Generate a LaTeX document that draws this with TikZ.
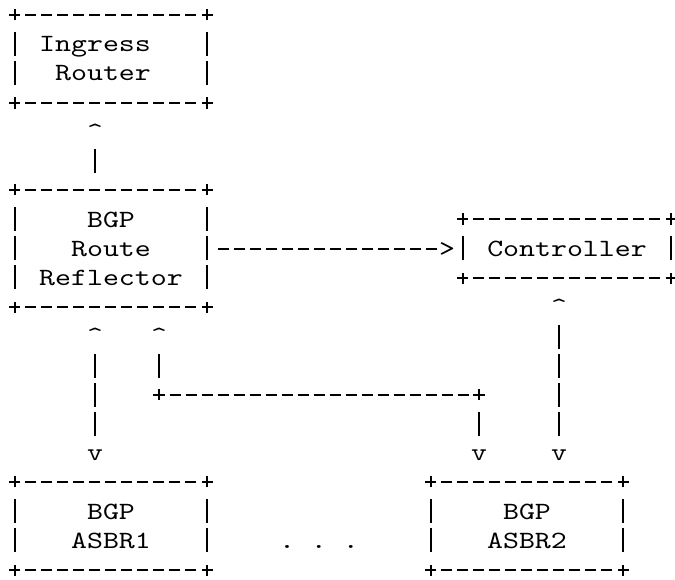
\documentclass[tikz,border=0pt]{standalone}
\usepackage{fontspec}
\newfontfamily\asciifont{lmmono10-regular.otf}[FakeStretch=1.225]
\newcommand\asciitext{\asciifont\fontsize{12.4pt}{14.6pt}\selectfont}
\newcommand\lstrut{\rule[-3.5pt]{0pt}{14.6pt}}
\tikzset{
  ascline/.style={line width=1pt},
  hdash/.style={ascline, dash pattern=on 5.5pt off 2.5pt, dash phase=6.75pt},
  vdash/.style={ascline, dash pattern=on 12pt off 2.6pt, dash phase=13.3pt},
  plus/.pic={\draw[ascline] (-2.8pt,0) -- (2.8pt,0) (0,-2.8pt) -- (0,2.8pt);},
  box/.style={rectangle, inner sep=0pt, font=\asciitext, align=center},
  tip/.style={inner sep=0pt, font=\asciitext, text height=11.1pt, text depth=3.5pt},
}
% ascii style frame round a box node
\newcommand\asciiframe[1]{%
  \draw[hdash, shorten <=4pt, shorten >=4pt] (#1.north west) -- (#1.north east);
  \draw[hdash, shorten <=4pt, shorten >=4pt] (#1.south west) -- (#1.south east);
  \draw[vdash, shorten <=7.3pt, shorten >=7.3pt] (#1.north west) -- (#1.south west);
  \draw[vdash, shorten <=7.3pt, shorten >=7.3pt] (#1.north east) -- (#1.south east);
  \foreach \corner in {north west,north east,south west,south east}{
    \pic at (#1.\corner) {plus};
  }
}

\begin{document}
\begin{tikzpicture}[x=8pt,y=-14.6pt]
  \useasboundingbox (-0.9375,-0.514) rectangle (41.25,19.32);

  % the boxes
  \node[box, minimum width=96pt, minimum height=43.8pt] (ing) at (6,1.5)
    {\lstrut Ingress\hphantom{xx}\\\lstrut\hphantom{x}Router\hphantom{xx}};
  \node[box, minimum width=96pt, minimum height=58.4pt] (rr) at (6,8)
    {\lstrut BGP\\\lstrut Route\\\lstrut Reflector};
  \node[box, minimum width=104pt, minimum height=29.2pt] (ctl) at (34.5,8)
    {\lstrut Controller};
  \node[box, minimum width=96pt, minimum height=43.8pt] (asbr1) at (6,17.5)
    {\lstrut BGP\\\lstrut ASBR1};
  \node[box, minimum width=96pt, minimum height=43.8pt] (asbr2) at (32,17.5)
    {\lstrut BGP\\\lstrut ASBR2};
  \foreach \b in {ing,rr,ctl,asbr1,asbr2}{
    \asciiframe{\b}
  }

  % arrow heads
  \node[tip] (up1) at (5,4) {\textasciicircum};
  \node[tip] (rt1) at (27,8) {>};
  \node[tip] (up2) at (5,11) {\textasciicircum};
  \node[tip] (up3) at (9,11) {\textasciicircum};
  \node[tip] (up4) at (34,10) {\textasciicircum};
  \node[tip] (dn1) at (5,15) {v};
  \node[tip] (dn2) at (29,15) {v};
  \node[tip] (dn3) at (34,15) {v};
  \node[tip] (dots) at (19,18) {.\hphantom{.}.\hphantom{.}.};

  % connectors
  \draw[vdash, shorten >=7.3pt] (up1.south) -- (up1.south |- rr.north);
  \draw[hdash, shorten <=4pt] (rr.east) -- (rt1.west);
  \draw[vdash] (up2.south) -- (dn1.north);
  \draw[vdash] (up4.south) -- (dn3.north);

  % the joined line from the reflector to ASBR2
  \coordinate (j1) at (9,13);
  \coordinate (j2) at (29,13);
  \draw[vdash, shorten >=7.3pt] (up3.south) -- (j1);
  \draw[hdash, shorten <=4pt, shorten >=4pt] (j1) -- (j2);
  \draw[vdash, shorten <=7.3pt] (j2) -- (dn2.north);
  \pic at (j1) {plus};
  \pic at (j2) {plus};
\end{tikzpicture}
\end{document}
